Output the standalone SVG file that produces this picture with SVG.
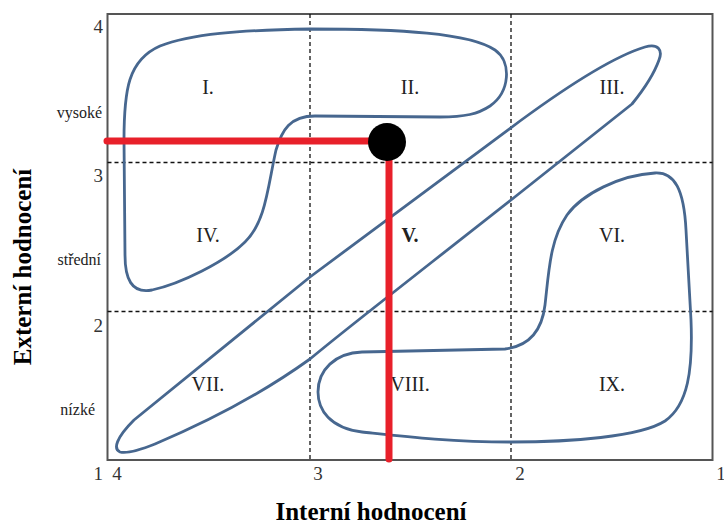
<svg xmlns="http://www.w3.org/2000/svg" width="724" height="525" viewBox="0 0 724 525">
<style>
.frame{fill:none;stroke:#555;stroke-width:2}
.grid{stroke:#111;stroke-width:1.3;stroke-dasharray:4 3;fill:none}
.blob{fill:none;stroke:#47678f;stroke-width:2.8;stroke-linejoin:round}
.tick{font-family:"Liberation Serif",serif;font-size:19px;fill:#333}
.cat{font-family:"Liberation Serif",serif;font-size:16px;fill:#222;text-anchor:end}
.rom{font-family:"Liberation Serif",serif;font-size:20px;fill:#222;text-anchor:middle}
.title{font-family:"Liberation Serif",serif;font-size:25px;font-weight:bold;fill:#000;text-anchor:middle}
.red{stroke:#e8202a;stroke-width:7;stroke-linecap:round;fill:none}
</style>
<rect width="724" height="525" fill="#fff"/>
<g id="axes">
<rect class="frame" x="107.5" y="14" width="605" height="446"/>
<line class="grid" x1="310" y1="14" x2="310" y2="460"/>
<line class="grid" x1="511" y1="14" x2="511" y2="460"/>
<line class="grid" x1="107.5" y1="162.5" x2="712.5" y2="162.5"/>
<line class="grid" x1="107.5" y1="311.5" x2="712.5" y2="311.5"/>
<text class="tick" x="103" y="33" text-anchor="end">4</text>
<text class="tick" x="103" y="182" text-anchor="end">3</text>
<text class="tick" x="103" y="332" text-anchor="end">2</text>
<text class="tick" x="103" y="480" text-anchor="end">1</text>
<text class="tick" x="117" y="480" text-anchor="middle">4</text>
<text class="tick" x="318" y="480" text-anchor="middle">3</text>
<text class="tick" x="520" y="480" text-anchor="middle">2</text>
<text class="tick" x="721" y="480" text-anchor="middle">1</text>
<text class="cat" x="102" y="118">vysoké</text>
<text class="cat" x="101" y="265">střední</text>
<text class="cat" x="95" y="415">nízké</text>
<text class="title" x="371" y="520">Interní hodnocení</text>
<text class="title" transform="translate(31 267) rotate(-90)">Externí hodnocení</text>
</g>
<g id="region-I-II-IV">
<path class="blob" d="M 310 29 C 400 29, 470 33, 495 50 C 512 62, 510 92, 490 106 C 478 114, 465 117, 440 117 L 315 116 C 290 116, 282 130, 276 150 C 268 185, 266 222, 245 242 C 225 262, 180 284, 152 290 C 131 294, 125 278, 125 255 L 124 140 C 124 90, 128 60, 160 46 C 190 34, 240 30, 310 29 Z"/>
</g>
<g id="region-III-V-VII">
<path class="blob" d="M 120 452 C 113 449, 116 438, 134 420 L 310 277 L 520 121 C 565 88, 615 56, 645 47 C 658 43, 663 50, 659 60 C 654 74, 645 88, 632 104 L 511 200 L 432 262 C 380 303, 340 334, 310 359 C 260 395, 200 425, 155 444 C 140 450, 127 454, 120 452 Z"/>
</g>
<g id="region-VI-VIII-IX">
<path class="blob" d="M 362 352 L 505 349 C 530 346, 542 330, 545 305 C 549 270, 550 240, 567 215 C 582 194, 620 175, 655 173 C 675 172, 684 190, 686 230 L 691 320 C 693 370, 688 405, 665 421 C 640 437, 570 442, 511 442 C 450 442, 400 436, 362 432 C 330 428, 318 410, 318 392 C 318 370, 335 353, 362 352 Z"/>
</g>
<g id="labels">
<text class="rom" x="208" y="94">I.</text>
<text class="rom" x="410" y="94">II.</text>
<text class="rom" x="612" y="94">III.</text>
<text class="rom" x="208" y="242">IV.</text>
<text class="rom" x="410" y="242" font-weight="bold">V.</text>
<text class="rom" x="612" y="242">VI.</text>
<text class="rom" x="208" y="391">VII.</text>
<text class="rom" x="410" y="391">VIII.</text>
<text class="rom" x="612" y="391">IX.</text>
</g>
<g id="connectors">
<line class="red" x1="107" y1="141" x2="388" y2="141"/>
<line class="red" x1="389" y1="142" x2="389" y2="459"/>
</g>
<g id="point">
<circle cx="387" cy="142" r="19" fill="#000"/>
</g>
</svg>
